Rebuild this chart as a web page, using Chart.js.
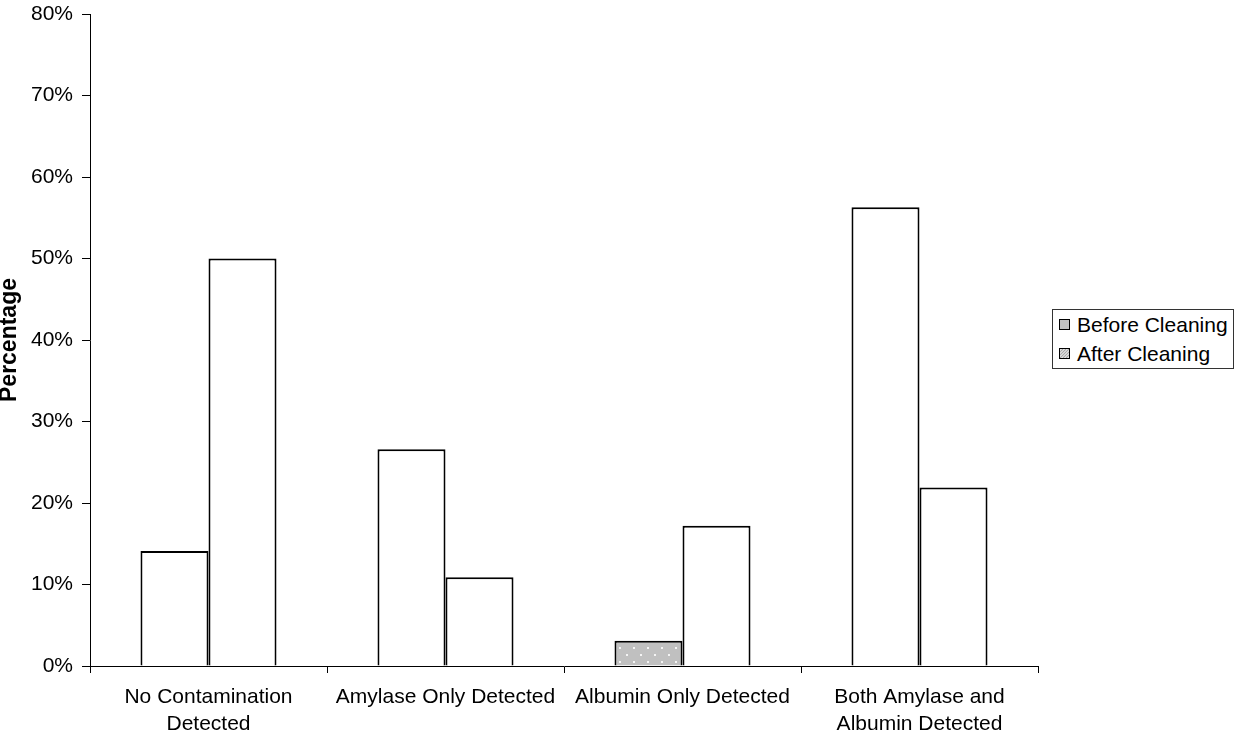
<!DOCTYPE html>
<html>
<head>
<meta charset="utf-8">
<script src="https://cdn.jsdelivr.net/npm/chart.js@4/dist/chart.umd.min.js"></script>
<style>
  html, body { margin: 0; padding: 0; background: #fff; }
  #wrap { position: relative; width: 1236px; height: 738px; overflow: hidden; }
  #legend {
    position: absolute; left: 1052px; top: 309px; width: 182px; height: 60px;
    border: 1px solid #333; background: #fff;
    font-family: "Liberation Sans", Arial, sans-serif; font-size: 21px; color: #000;
    box-sizing: border-box; padding-top: 0px;
  }
  .item { display: flex; align-items: center; height: 29px; padding-left: 6px; }
  .mk { width: 11px; height: 11px; border: 1px solid #000; margin-right: 7px; box-sizing: border-box; }
</style>
</head>
<body>
<div id="wrap">
  <canvas id="c" width="1236" height="738"></canvas>
  <div id="legend"></div>
</div>
<script>
const categories = [
  ["No Contamination", "Detected"],
  "Amylase Only Detected",
  "Albumin Only Detected",
  ["Both Amylase and", "Albumin Detected"]
];
const seriesNames = ["Before Cleaning", "After Cleaning"];
const beforeValues = [14.1, 26.6, 3.1, 56.3];
const afterValues = [50.0, 10.9, 17.2, 21.9];
const yTicks = [0, 10, 20, 30, 40, 50, 60, 70, 80];

function dotPattern() {
  const p = document.createElement('canvas');
  p.width = 14; p.height = 14;
  const g = p.getContext('2d');
  g.fillStyle = '#c0c0c0';
  g.fillRect(0, 0, 14, 14);
  g.fillStyle = '#f4f4f4';
  g.fillRect(3, 3, 2, 2);
  g.fillRect(10, 10, 2, 2);
  return document.getElementById('c').getContext('2d').createPattern(p, 'repeat');
}
const dots = dotPattern();
const FONT = "'Liberation Sans', Arial, sans-serif";

const chart = new Chart(document.getElementById('c'), {
  type: 'bar',
  data: {
    labels: categories,
    datasets: [
      {
        label: seriesNames[0],
        data: beforeValues,
        backgroundColor: ['#ffffff', '#ffffff', dots, '#ffffff'],
        borderColor: '#000',
        borderWidth: 2,
        categoryPercentage: 0.574,
        barPercentage: 1.0
      },
      {
        label: seriesNames[1],
        data: afterValues,
        backgroundColor: '#ffffff',
        borderColor: '#000',
        borderWidth: 2,
        categoryPercentage: 0.574,
        barPercentage: 1.0
      }
    ]
  },
  options: {
    responsive: false,
    animation: false,
    devicePixelRatio: 1,
    layout: { padding: { left: 0, right: 198, top: 14, bottom: 0 } },
    plugins: { legend: { display: false }, tooltip: { enabled: false } },
    scales: {
      x: {
        grid: { offset: true, drawOnChartArea: false, drawTicks: true, tickLength: 7, tickColor: '#000' },
        border: { display: true, color: '#000', width: 1 },
        ticks: {
          color: '#000', font: { family: FONT, size: 21, lineHeight: 1.29 },
          padding: 11, maxRotation: 0, autoSkip: false
        },
        afterFit: s => { s.height = 72; s.paddingLeft = 0; s.paddingRight = 0; }
      },
      y: {
        min: 0, max: 80,
        afterBuildTicks: s => { s.ticks = yTicks.map(v => ({ value: v })); },
        grid: { drawOnChartArea: false, drawTicks: true, tickLength: 8, tickColor: '#000' },
        border: { display: true, color: '#000', width: 1 },
        ticks: {
          color: '#000', font: { family: FONT, size: 21 }, padding: 9,
          callback: v => v + '%'
        },
        title: {
          display: true, text: 'Percentage', color: '#000',
          font: { family: FONT, size: 23, weight: 'bold', lineHeight: 0.8 }, padding: 0
        },
        afterFit: s => { s.width = 90; s.paddingTop = 0; s.paddingBottom = 0; }
      }
    }
  }
});

// HTML legend built from dataset labels
function hatchURL() {
  const p = document.createElement('canvas');
  p.width = 9; p.height = 9;
  const g = p.getContext('2d');
  g.fillStyle = '#f2f2f2'; g.fillRect(0, 0, 9, 9);
  g.strokeStyle = '#a8a8a8'; g.lineWidth = 1.2;
  for (let k = -9; k < 18; k += 3) { g.beginPath(); g.moveTo(k, 9); g.lineTo(k + 9, 0); g.stroke(); }
  return p.toDataURL();
}
const legendEl = document.getElementById('legend');
const markerStyles = ['background:#c0c0c0', 'background:url(' + hatchURL() + ')'];
chart.data.datasets.forEach((ds, i) => {
  const it = document.createElement('div');
  it.className = 'item';
  const mk = document.createElement('span');
  mk.className = 'mk';
  mk.setAttribute('style', markerStyles[i]);
  const tx = document.createElement('span');
  tx.textContent = ds.label;
  it.appendChild(mk); it.appendChild(tx);
  legendEl.appendChild(it);
});
</script>
</body>
</html>
